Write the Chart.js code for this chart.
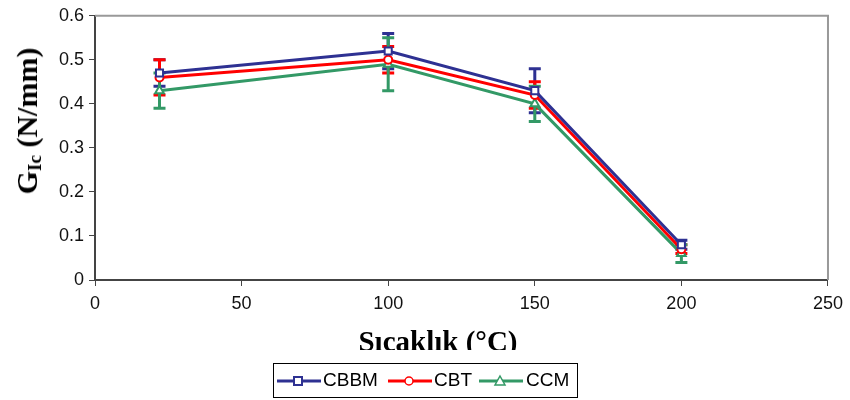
<!DOCTYPE html>
<html>
<head>
<meta charset="utf-8">
<script src="https://cdn.jsdelivr.net/npm/chart.js@4.4.0/dist/chart.umd.min.js"></script>
<style>
  body{margin:0;background:#fff;}
  #wrap{position:relative;width:850px;height:400px;overflow:hidden;}
  #chart{position:absolute;left:0;top:0;}
  #ytitle{position:absolute;left:28px;top:121px;transform:translate(-50%,-50%) rotate(-90deg);
    font:bold 30px "Liberation Serif","Times New Roman",serif;white-space:nowrap;color:#000;}
  #ytitle sub{font-size:19px;vertical-align:-4px;}
  #xtitle{position:absolute;left:288px;top:322px;width:300px;height:28px;overflow:hidden;text-align:center;
    font:bold 29px "Liberation Serif","Times New Roman",serif;line-height:38px;color:#000;}
  #legend{position:absolute;left:273px;top:363px;width:303px;height:33px;border:1px solid #000;background:#fff;
    font:19px "Liberation Sans",Arial,sans-serif;color:#000;}
  #legend span{position:absolute;top:5px;}
  #legend svg{position:absolute;top:8px;}
</style>
</head>
<body>
<div id="wrap">
  <canvas id="chart" width="850" height="400"></canvas>
  <div id="ytitle">G<sub>Ic</sub> (N/mm)</div>
  <div id="xtitle">Sıcaklık (°C)</div>
  <div id="legend"></div>
</div>
<script>
const temps = [22, 100, 150, 200];
const seriesNames = ["CBBM", "CBT", "CCM"];
const cbbm = [0.47, 0.52, 0.43, 0.08];
const cbt  = [0.46, 0.50, 0.42, 0.07];
const ccm  = [0.43, 0.49, 0.40, 0.06];
// error bar half-widths
const cbbmErr = [0.03, 0.04, 0.05, 0.01];
const cbtErr  = [0.04, 0.03, 0.03, 0.01];
const ccmErr  = [0.04, 0.06, 0.04, 0.02];
const xTicks = [0, 50, 100, 150, 200, 250];

const colors = ["#2e3192", "#ff0000", "#339966"];
const styles = ["rect", "circle", "triangle"];
const values = [cbbm, cbt, ccm];
const errs = [cbbmErr, cbtErr, ccmErr];

const datasets = seriesNames.map((n, i) => ({
  label: n,
  data: temps.map((t, j) => ({x: t, y: values[i][j]})),
  err: errs[i],
  borderColor: colors[i],
  borderWidth: 3,
  pointStyle: styles[i],
  pointRadius: i === 1 ? 4 : 5,
  pointBackgroundColor: "#fff",
  pointBorderColor: colors[i],
  pointBorderWidth: 2,
  tension: 0
}));

/* error bars, drawn before the lines */
const errorBars = {
  id: "errorBars",
  beforeDatasetsDraw(chart){
    const ctx = chart.ctx, xs = chart.scales.x, ys = chart.scales.y;
    chart.data.datasets.forEach(ds => {
      ctx.save();
      ctx.strokeStyle = ds.borderColor;
      ctx.lineWidth = 3;
      ds.data.forEach((p, j) => {
        const px = xs.getPixelForValue(p.x);
        const top = ys.getPixelForValue(p.y + ds.err[j]);
        const bot = ys.getPixelForValue(p.y - ds.err[j]);
        ctx.beginPath();
        ctx.moveTo(px, top); ctx.lineTo(px, bot);
        ctx.moveTo(px - 6, top); ctx.lineTo(px + 6, top);
        ctx.moveTo(px - 6, bot); ctx.lineTo(px + 6, bot);
        ctx.stroke();
      });
      ctx.restore();
    });
  }
};

/* gray box on top and right of the plot */
const frame = {
  id: "frame",
  beforeDatasetsDraw(chart){
    const a = chart.chartArea, ctx = chart.ctx;
    ctx.save();
    ctx.strokeStyle = "#999";
    ctx.lineWidth = 2;
    ctx.beginPath();
    ctx.moveTo(a.left, a.top); ctx.lineTo(a.right, a.top); ctx.lineTo(a.right, a.bottom);
    ctx.stroke();
    ctx.restore();
  }
};

const tickFont = {family: "'Liberation Sans', Arial, sans-serif", size: 18};

new Chart(document.getElementById("chart"), {
  type: "line",
  data: {datasets},
  options: {
    responsive: false,
    animation: false,
    layout: {padding: {top: 15, right: 22, left: 0, bottom: 0}},
    plugins: {legend: {display: false}, tooltip: {enabled: false}},
    scales: {
      x: {
        type: "linear", min: 0, max: 250,
        afterBuildTicks: s => { s.ticks = xTicks.map(v => ({value: v})); },
        afterFit: s => { s.height = 120; },
        border: {color: "#444", width: 2},
        grid: {drawOnChartArea: false, tickLength: 6, color: "#444"},
        ticks: {font: tickFont, color: "#111", padding: 7}
      },
      y: {
        min: 0, max: 0.6,
        afterFit: s => { s.width = 95; },
        border: {color: "#444", width: 2},
        grid: {drawOnChartArea: false, tickLength: 6, color: "#444"},
        ticks: {stepSize: 0.1, font: tickFont, color: "#111", padding: 5}
      }
    }
  },
  plugins: [frame, errorBars]
});

/* legend with line + marker */
const legend = document.getElementById("legend");
const legPos = [[3, 49], [114, 160], [205, 252]];
const markerSvg = [
  c => `<rect x="17" y="5" width="8" height="8" fill="#fff" stroke="${c}" stroke-width="2"/>`,
  c => `<circle cx="21" cy="9" r="4" fill="#fff" stroke="${c}" stroke-width="1.5"/>`,
  c => `<polygon points="21,4 26,13 16,13" fill="#fff" stroke="${c}" stroke-width="1.5"/>`
];
seriesNames.forEach((n, i) => {
  legend.innerHTML += `<svg width="44" height="18" style="left:${legPos[i][0]}px">
    <line x1="0" y1="9" x2="44" y2="9" stroke="${colors[i]}" stroke-width="3"/>${markerSvg[i](colors[i])}</svg>
    <span style="left:${legPos[i][1]}px">${n}</span>`;
});
</script>
</body>
</html>
